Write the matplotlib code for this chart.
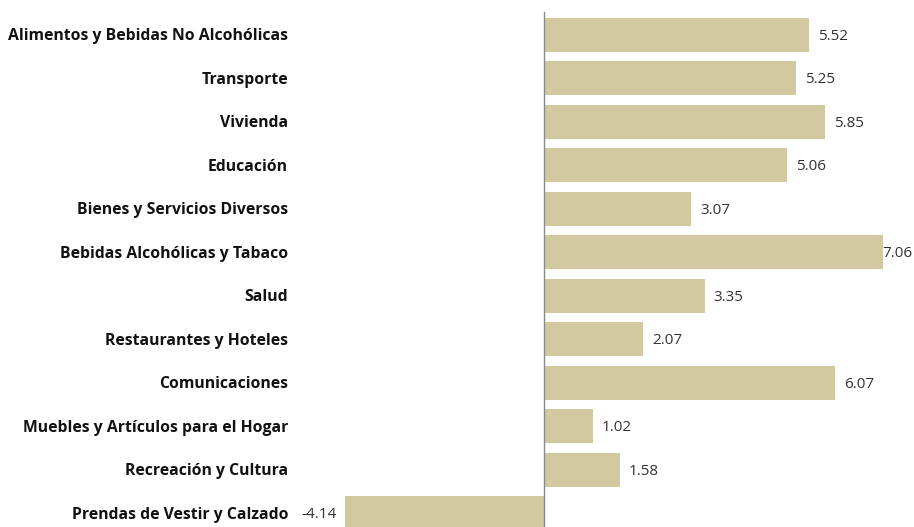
import numpy as np
import matplotlib.pyplot as plt
import matplotlib.transforms as mtransforms

plt.rcParams['font.family'] = ['Open Sans', 'DejaVu Sans']

# data
categories = ["Alimentos y Bebidas No Alcohólicas", "Transporte", "Vivienda", "Educación",
              "Bienes y Servicios Diversos", "Bebidas Alcohólicas y Tabaco", "Salud",
              "Restaurantes y Hoteles", "Comunicaciones", "Muebles y Artículos para el Hogar",
              "Recreación y Cultura", "Prendas de Vestir y Calzado"]
values = [5.52, 5.25, 5.85, 5.06, 3.07, 7.06, 3.35, 2.07, 6.07, 1.02, 1.58, -4.14]

bar_color = "#d2c9a1"
W, H = 914, 527

fig = plt.figure(figsize=(W / 100, H / 100), dpi=100)
ax = fig.add_axes([0, 0, 1, 1])

y = np.arange(len(categories))
ax.barh(y, values, height=0.78, color=bar_color)

# zero at x=544 px, 48 px per unit
ax.set_xlim(-544 / 48, (W - 544) / 48)
ax.set_ylim(11.32, -0.8)
ax.axis("off")
ax.plot([0, 0], [11.32, -0.52], color="#8a8a8a", lw=1.0, clip_on=False)

# nudge texts down a little so the caps sit on the bar centre
shift = mtransforms.ScaledTranslation(0, -1.5 / 100, fig.dpi_scale_trans)

# category labels, right aligned at a fixed figure x
trans = mtransforms.blended_transform_factory(fig.transFigure, ax.transData) + shift
for yi, cat in zip(y, categories):
    ax.text(288 / W, yi, cat, transform=trans, ha="right", va="center",
            fontsize=11.3, fontweight="bold", color="#111111")

# value labels
xmax = ax.get_xlim()[1]
for yi, v in zip(y, values):
    if v >= 0:
        xt = min(v + 9 / 48, xmax - 32 / 48)
        ax.text(xt, yi, f"{v:.2f}", ha="left", va="center", fontsize=11,
                color="#333333", transform=ax.transData + shift)
    else:
        ax.text(v - 9 / 48, yi, f"{v:.2f}", ha="right", va="center", fontsize=11,
                color="#333333", transform=ax.transData + shift)

fig.savefig("out.png", dpi=100)
